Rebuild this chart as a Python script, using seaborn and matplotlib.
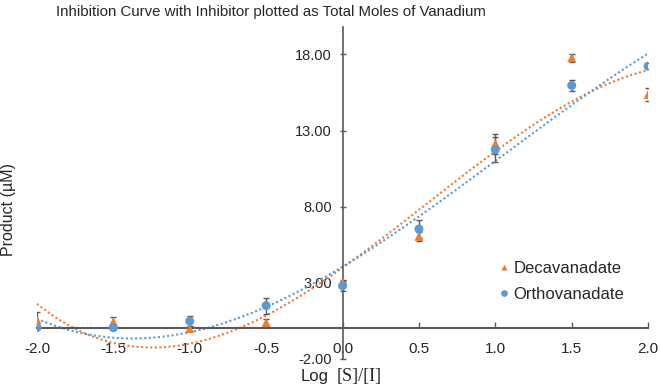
import numpy as np
import pandas as pd
import matplotlib
matplotlib.use("Agg")
import matplotlib.pyplot as plt
import seaborn as sns

# Data
log_s_i = [-2.0, -1.5, -1.0, -0.5, 0.0, 0.5, 1.0, 1.5, 2.0]
deca = [0.57, 0.45, 0.0, 0.40, 3.05, 6.05, 12.14, 17.78, 15.37]
deca_err = [0.5, 0.3, 0.15, 0.25, 0.15, 0.3, 0.65, 0.25, 0.45]
ortho = [0.06, 0.05, 0.48, 1.50, 2.80, 6.53, 11.75, 15.96, 17.23]
ortho_err = [0.1, 0.1, 0.35, 0.52, 0.35, 0.57, 0.8, 0.35, 0.2]
y_ticks = [-2, 3, 8, 13, 18]
x_ticks = [-2.0, -1.5, -1.0, -0.5, 0.0, 0.5, 1.0, 1.5, 2.0]

ORANGE = "#ED7D31"
BLUE = "#5B9BD5"
AXC = "#595959"

sns.set_style("white")
plt.rcParams["font.family"] = ["Liberation Sans", "DejaVu Sans"]

fig = plt.figure(figsize=(6.6, 3.91), dpi=100)
ax = fig.add_axes([0.056, 0.082, 0.926, 0.849])

df = pd.DataFrame({
    "x": log_s_i * 2,
    "y": deca + ortho,
    "series": ["Decavanadate"] * len(deca) + ["Orthovanadate"] * len(ortho),
})

# trendlines (cubic polynomial fit, as in spreadsheet trendline)
xs = np.linspace(-2, 2, 200)
for vals, col in [(deca, ORANGE), (ortho, BLUE)]:
    coef = np.polyfit(log_s_i, vals, 3)
    ax.plot(xs, np.polyval(coef, xs), color=col, lw=1.5, ls=(0, (1, 1.2)), zorder=2)

# error bars
ax.errorbar(log_s_i, deca, yerr=deca_err, fmt="none", ecolor=AXC, elinewidth=1,
            capsize=2.5, capthick=1, zorder=3)
ax.errorbar(log_s_i, ortho, yerr=ortho_err, fmt="none", ecolor=AXC, elinewidth=1,
            capsize=2.5, capthick=1, zorder=3)

sns.scatterplot(data=df, x="x", y="y", hue="series", style="series",
                palette={"Decavanadate": ORANGE, "Orthovanadate": BLUE},
                markers={"Decavanadate": "^", "Orthovanadate": "o"},
                s=42, edgecolor="none", ax=ax, zorder=4)

ax.set_xlim(-2, 2)
ax.set_ylim(-2, 19.8)
ax.set_xticks(x_ticks)
ax.set_xticklabels([f"{v:.1f}" for v in x_ticks])
ax.set_yticks(y_ticks)
ax.set_yticklabels([f"{v:.2f}" for v in y_ticks])

for s in ["top", "right"]:
    ax.spines[s].set_visible(False)
ax.spines["bottom"].set_position(("data", 0))
ax.spines["left"].set_position(("data", 0))
ax.spines["bottom"].set_color(AXC)
ax.spines["left"].set_color(AXC)
ax.spines["bottom"].set_linewidth(1.5)
ax.spines["left"].set_linewidth(1.2)

ax.tick_params(axis="x", direction="in", length=4, width=1, color=AXC,
               labelsize=11, pad=9.5, bottom=True)
ax.tick_params(axis="y", direction="inout", length=5, width=1, color=AXC,
               labelsize=10.5, pad=5, left=True)

ax.set_xlabel("")
ax.set_ylabel("")
fig.text(0.013, 1 - 210 / 391, "Product (µM)", rotation=90, ha="center",
         va="center", fontsize=11.5)
fig.text(271 / 660, 1 - 12 / 391,
         "Inhibition Curve with Inhibitor plotted as Total Moles of Vanadium",
         ha="center", va="center", fontsize=10.8)
fig.text(329 / 660, 1 - 376 / 391, "Log", ha="right", va="center", fontsize=12)
fig.text(337 / 660, 1 - 376 / 391, "[S]/[I]", ha="left", va="center", fontsize=13,
         family=["Liberation Serif", "DejaVu Serif"])

leg = ax.legend(loc="upper left", bbox_to_anchor=(0.74, 0.315), frameon=False,
                fontsize=12, handletextpad=0.05, markerscale=0.75,
                borderaxespad=0, labelspacing=0.65, handlelength=1.0)

fig.savefig("out.png", dpi=100)
